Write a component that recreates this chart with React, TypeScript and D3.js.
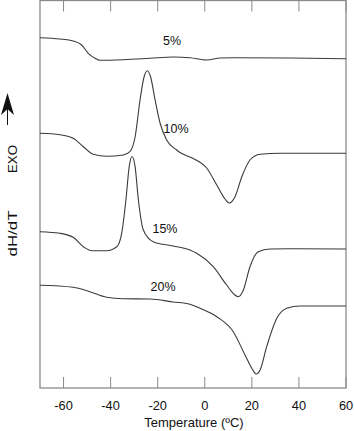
import React from "react";
import * as d3 from "d3";

const W = 354;
const H = 431;

// Temperature (°C) and heat flow (arbitrary units, offset per curve)
const temps5 = [-70, -61.5, -55.9, -52.3, -49.5, -46.6, -44.5, -34.6, -23.3, -13.4, -6.3, 0.8, 6.5, 12.1, 36.2, 60];
const flow5 = [350.3, 349, 347, 343, 334.7, 329.7, 327.7, 328.3, 329.7, 331, 330.3, 328, 330, 330.3, 330, 329.3];

const temps10 = [-70, -61.5, -55.9, -51.6, -47.4, -41.7, -34.6, -31.8, -29.6, -27.5, -25.8, -24.4, -23.0, -21.1, -19.0, -16.2, -11.9, -10.5, -6.3, -4.9, 0.8, 5.1, 8.6, 10.4, 12.8, 15.7, 19.2, 23.5, 32.0, 60];
const flow10 = [254.7, 253.3, 249.7, 241.3, 233.7, 231.7, 233, 236.3, 251, 288, 311, 317.3, 311, 288, 265, 248, 238, 235.5, 231, 229.5, 220, 203, 189, 185, 191, 211, 228, 233.7, 234.7, 234.7];

const temps15 = [-70, -61.5, -55.9, -51.6, -48.0, -41.7, -37.4, -35.3, -33.5, -32.1, -30.9, -29.6, -28.2, -26.1, -21.9, -13.4, -6.3, -3.4, 3.6, 9.3, 12.8, 14.25, 16.4, 19.2, 22.7, 27.7, 36.2, 60];
const flow15 = [156.3, 154.7, 150.7, 141.3, 137.3, 137.3, 141.3, 154.7, 188, 221.3, 231.5, 221.3, 188, 158, 146.3, 142, 138, 134.7, 121.3, 103, 93, 91.3, 98, 121.3, 136.3, 139, 139.3, 139];

const temps20 = [-70, -55.9, -48.8, -41.7, -34.6, -23.3, -13.4, -6.3, -2.0, 5.1, 12.1, 17.1, 20.4, 21.8, 23.5, 26.3, 30.6, 34.8, 40.5, 60];
const flow20 = [102.7, 100.7, 96.3, 90.7, 89.3, 89, 86, 83.7, 79.7, 71.3, 56.3, 33, 18, 14, 18, 41.3, 69.7, 79.7, 82, 82];

const seriesLabels = ["5%", "10%", "15%", "20%"];
const labelTemps = [-13.9, -12.2, -16.9, -17.7];
const labelFlows = [343, 255, 155, 97];

const xTicks = [-60, -40, -20, 0, 20, 40, 60];

export default function App() {
  const left = 40, right = 346, top = 0.5, bottom = 388;
  const x = d3.scaleLinear().domain([-70, 60]).range([left, right]);
  const y = d3.scaleLinear().domain([0, 388]).range([bottom, 0]);

  const line = d3
    .line<[number, number]>()
    .x((d) => x(d[0]))
    .y((d) => y(d[1]))
    .curve(d3.curveMonotoneX);

  const series = [
    [temps5, flow5],
    [temps10, flow10],
    [temps15, flow15],
    [temps20, flow20],
  ].map(([t, f]) => t.map((v, i) => [v, f[i]] as [number, number]));

  const font = "Arial, 'Liberation Sans', Helvetica, sans-serif";
  const frame = "#8a8a8a";

  return (
    <svg
      width={W}
      height={H}
      style={{ position: "absolute", left: 0, top: 0, background: "#fff" }}
      fontFamily={font}
    >
      <rect x={0} y={0} width={W} height={H} fill="#fff" />
      {/* frame */}
      <rect
        x={left}
        y={top}
        width={right - left}
        height={bottom - top}
        fill="none"
        stroke={frame}
        strokeWidth={1.3}
      />
      {xTicks.map((t) => (
        <g key={t}>
          <line x1={x(t)} x2={x(t)} y1={top} y2={top + 11} stroke={frame} strokeWidth={1} />
          <line x1={x(t)} x2={x(t)} y1={bottom} y2={bottom - 11} stroke={frame} strokeWidth={1} />
          <text x={x(t)} y={410} textAnchor="middle" fontSize={12.8} fill="#111">
            {t}
          </text>
        </g>
      ))}
      <text x={(left + right) / 2 + 1} y={426.5} textAnchor="middle" fontSize={13} fill="#111">
        Temperature (ºC)
      </text>

      {/* curves */}
      {series.map((s, i) => (
        <path key={i} d={line(s) || ""} fill="none" stroke="#3a3a3a" strokeWidth={1.1} />
      ))}
      {seriesLabels.map((l, i) => (
        <text key={l} x={x(labelTemps[i])} y={y(labelFlows[i])} textAnchor="middle" fontSize={12.5} fill="#111">
          {l}
        </text>
      ))}

      {/* y label */}
      <text
        transform="translate(16.5,233.5) rotate(-90)"
        textAnchor="middle"
        fontSize={13}
        fill="#111"
        textLength={46}
        lengthAdjust="spacingAndGlyphs"
      >
        dH/dT
      </text>
      <text
        transform="translate(16.5,159) rotate(-90)"
        textAnchor="middle"
        fontSize={13}
        fill="#111"
        textLength={28}
        lengthAdjust="spacingAndGlyphs"
      >
        EXO
      </text>
      {/* arrow */}
      <line x1={7.5} x2={7.5} y1={105} y2={125} stroke="#111" strokeWidth={1} />
      <path d="M7.5,93 L14,115 L7.5,109 L1,115 Z" fill="#111" />
    </svg>
  );
}
